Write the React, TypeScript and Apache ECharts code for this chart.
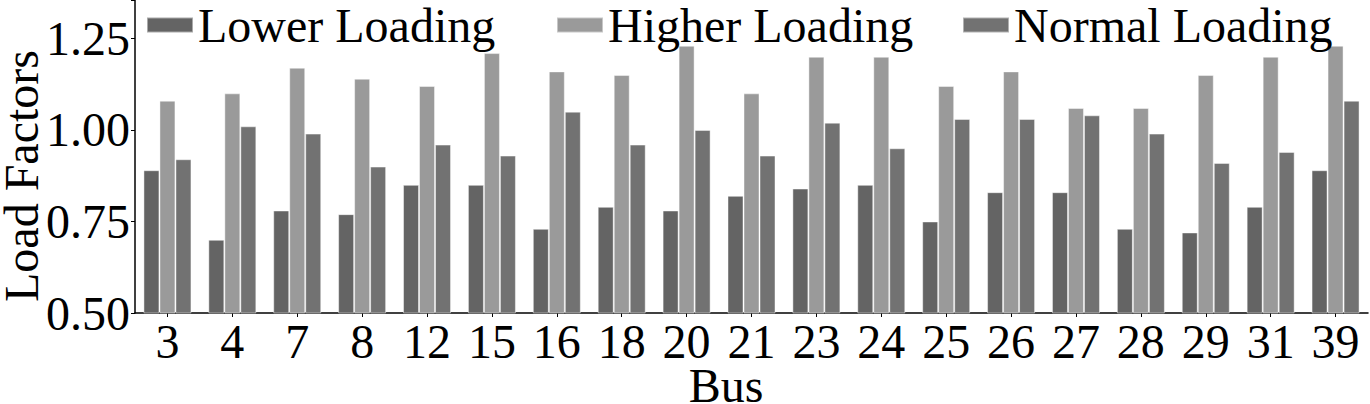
import React, { useEffect, useRef } from "react";
import * as echarts from "echarts";

const buses = ["3", "4", "7", "8", "12", "15", "16", "18", "20", "21", "23", "24", "25", "26", "27", "28", "29", "31", "39"];
const lowerLoading = [0.89, 0.70, 0.78, 0.77, 0.85, 0.85, 0.73, 0.79, 0.78, 0.82, 0.84, 0.85, 0.75, 0.83, 0.83, 0.73, 0.72, 0.79, 0.89];
const higherLoading = [1.08, 1.10, 1.17, 1.14, 1.12, 1.21, 1.16, 1.15, 1.23, 1.10, 1.20, 1.20, 1.12, 1.16, 1.06, 1.06, 1.15, 1.20, 1.23];
const normalLoading = [0.92, 1.01, 0.99, 0.90, 0.96, 0.93, 1.05, 0.96, 1.00, 0.93, 1.02, 0.95, 1.03, 1.03, 1.04, 0.99, 0.91, 0.94, 1.08];
const seriesNames = ["Lower Loading", "Higher Loading", "Normal Loading"];
const seriesColors = ["#646464", "#9a9a9a", "#727272"];

const FONT = "'Liberation Serif', 'Times New Roman', serif";

export default function App() {
  const ref = useRef<HTMLDivElement>(null);
  useEffect(() => {
    document.body.style.margin = "0";
    const chart = echarts.init(ref.current!, null, { renderer: "svg" });
    const values = [lowerLoading, higherLoading, normalLoading];
    const legendLefts = [146, 556, 962];
    chart.setOption({
      animation: false,
      textStyle: { fontFamily: FONT },
      grid: { left: 135, right: 2, top: 0, bottom: 91, containLabel: false },
      legend: seriesNames.map((n, i) => ({
        data: [n],
        left: legendLefts[i],
        top: 1,
        padding: 0,
        itemWidth: 46,
        itemHeight: 15,
        itemGap: 5,
        icon: "rect",
        textStyle: { fontFamily: FONT, fontSize: 48, lineHeight: 34, color: "#000", padding: [0, 0, 0, 0] },
      })),
      xAxis: {
        type: "category",
        data: buses,
        axisLine: { show: true, lineStyle: { color: "#000", width: 1.5 } },
        axisTick: { show: true, alignWithLabel: true, length: 4, lineStyle: { color: "#000", width: 1 } },
        axisLabel: { fontFamily: FONT, fontSize: 48, lineHeight: 36, color: "#000", margin: 10, interval: 0 },
        splitLine: { show: false },
      },
      yAxis: {
        type: "value",
        min: 0.5,
        max: 1.355,
        interval: 0.25,
        axisLine: { show: true, lineStyle: { color: "#000", width: 1.5 } },
        axisTick: { show: true, length: 4, lineStyle: { color: "#000", width: 1 } },
        axisLabel: {
          fontFamily: FONT,
          fontSize: 48,
          lineHeight: 36,
          color: "#000",
          margin: 5,
          formatter: (v: number) => (Math.abs(v - 1.355) < 1e-6 ? "" : v.toFixed(2)),
        },
        splitLine: { show: false },
      },
      series: seriesNames.map((n, i) => ({
        name: n,
        type: "bar",
        data: values[i],
        barWidth: 16,
        barGap: "0%",
        itemStyle: { color: seriesColors[i], borderColor: "rgba(255,255,255,0.45)", borderWidth: 1 },
      })),
      graphic: [
        {
          type: "text",
          x: 21,
          y: 176,
          rotation: Math.PI / 2,
          style: {
            text: "Load Factors",
            fontFamily: FONT,
            fontSize: 48,
            lineHeight: 36,
            fill: "#000",
            align: "center",
            verticalAlign: "middle",
          },
        },
        {
          type: "text",
          x: 726,
          y: 385,
          style: {
            text: "Bus",
            fontFamily: FONT,
            fontSize: 48,
            lineHeight: 36,
            fill: "#000",
            align: "center",
            verticalAlign: "middle",
          },
        },
      ],
    });
    return () => chart.dispose();
  }, []);
  return <div ref={ref} style={{ width: 1370, height: 404 }} />;
}
